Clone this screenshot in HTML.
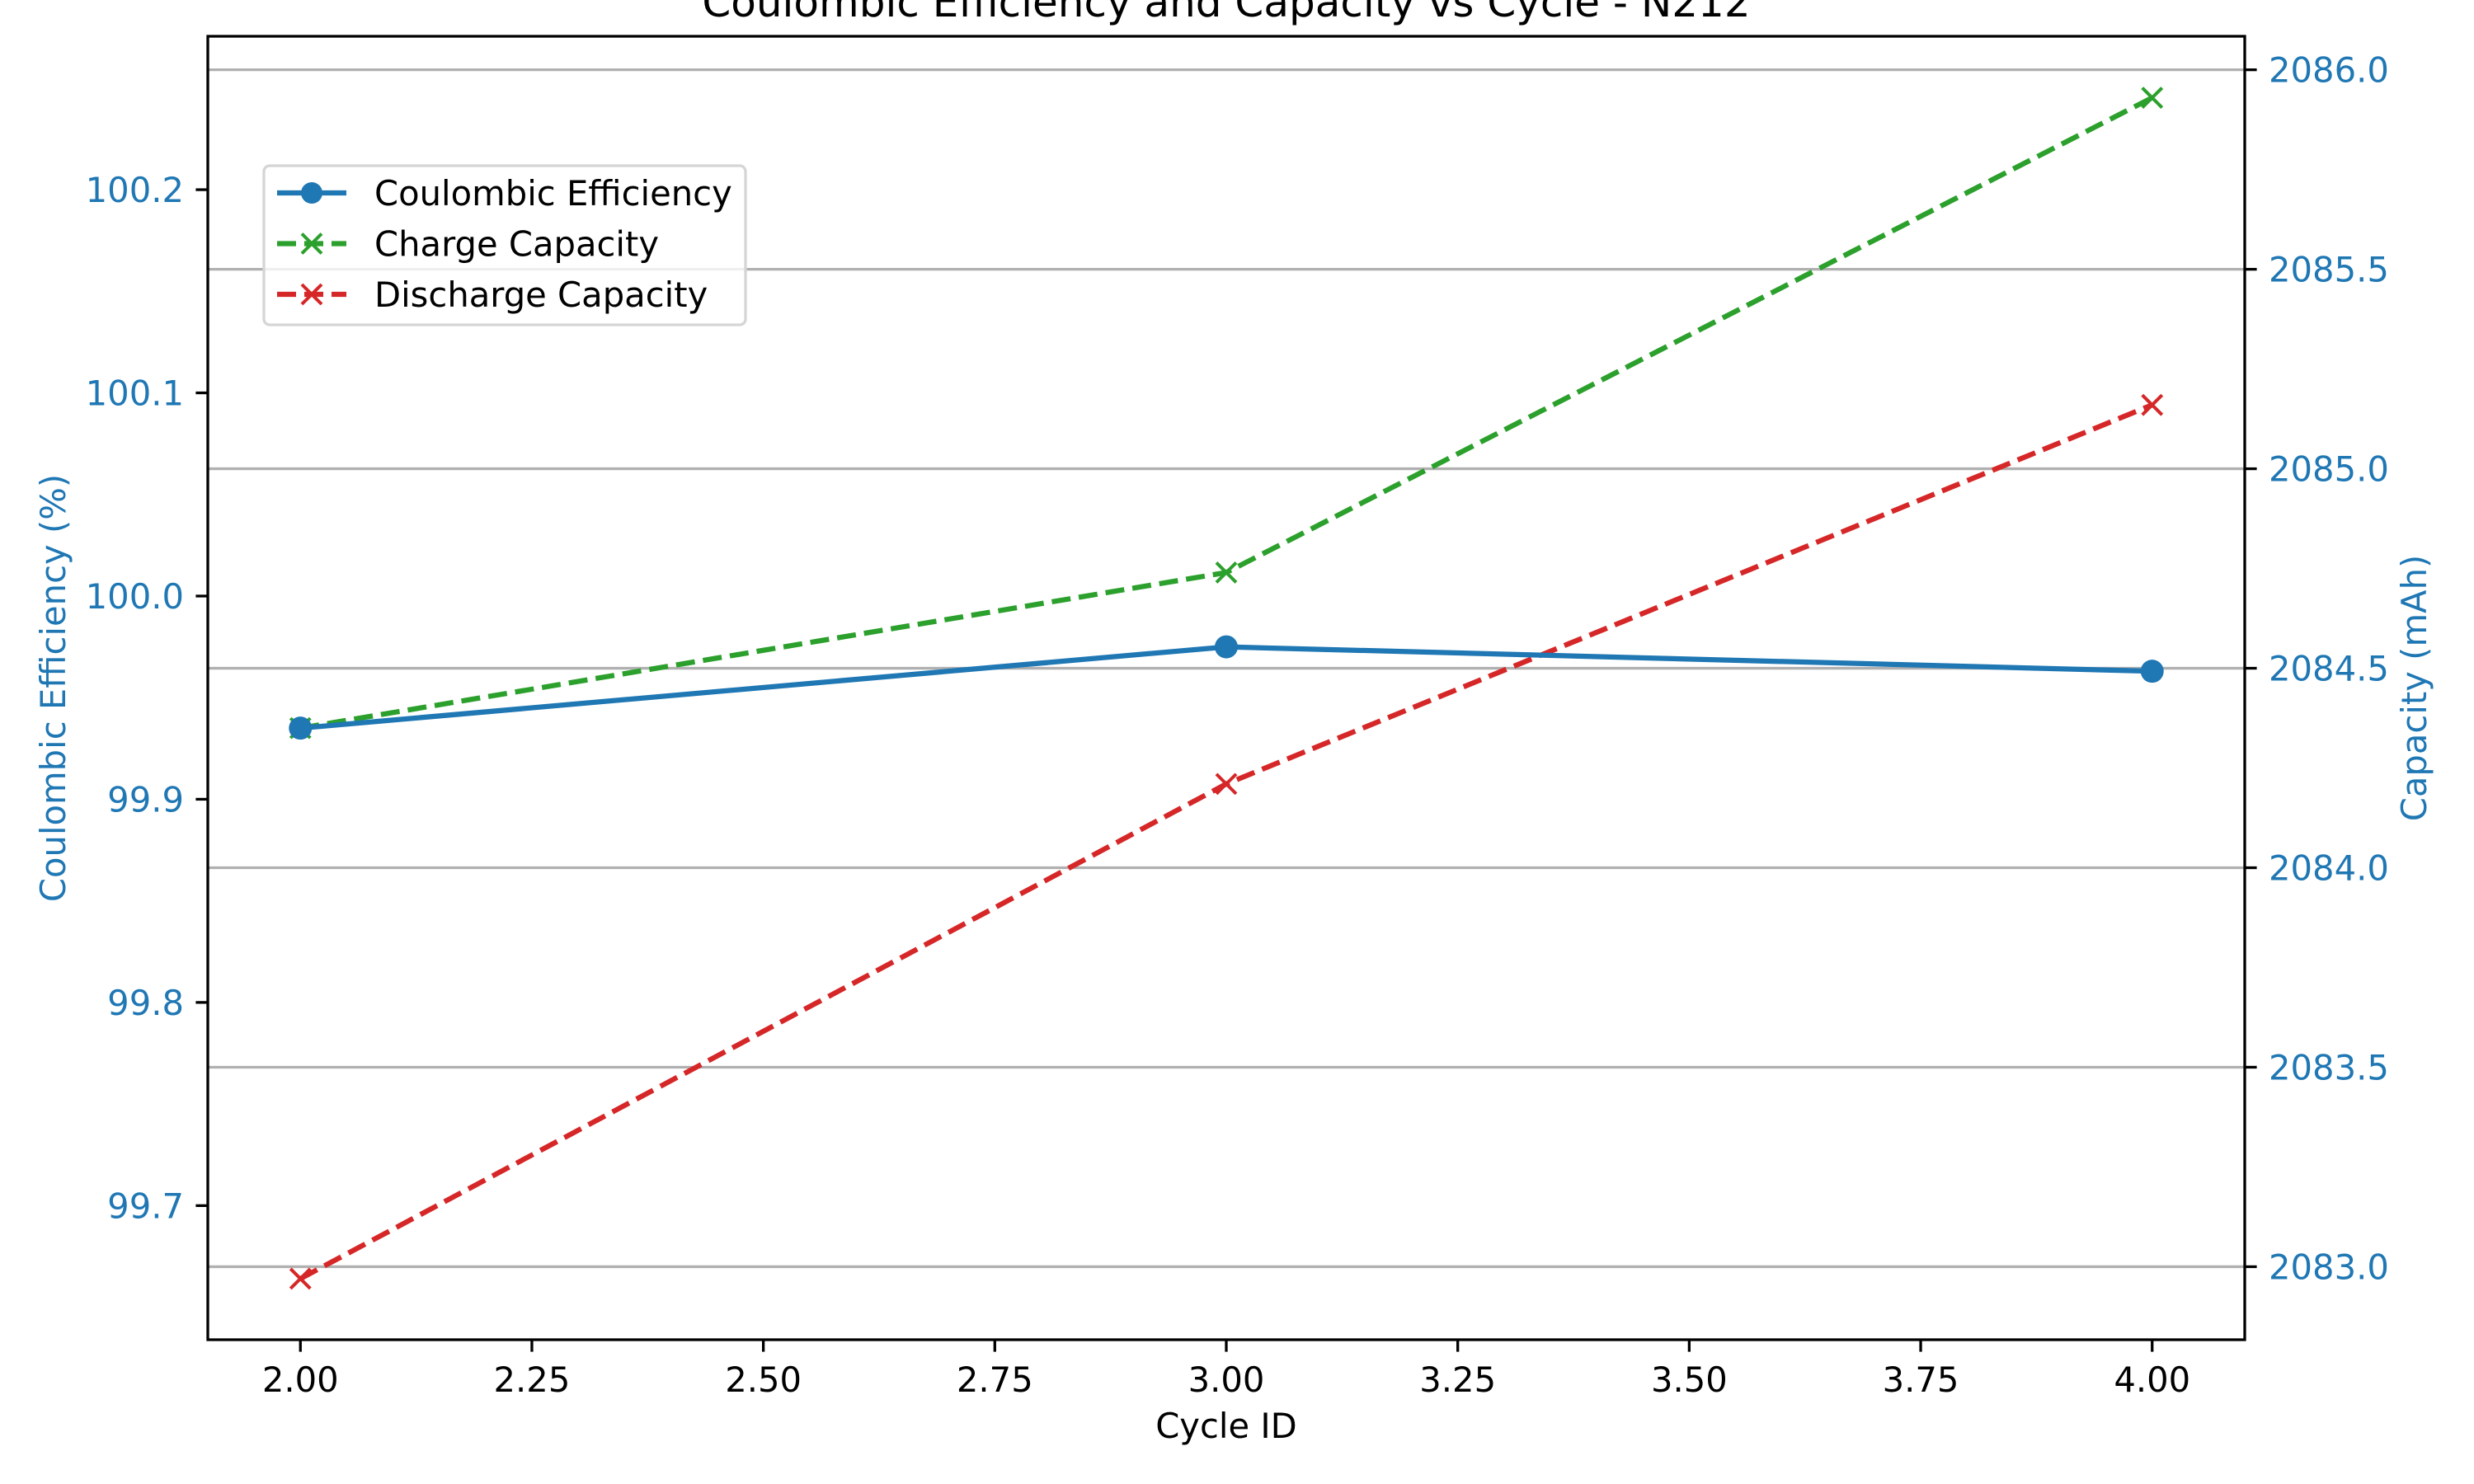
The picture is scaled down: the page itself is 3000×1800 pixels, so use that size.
<!DOCTYPE html>
<html><head><meta charset="utf-8"><style>
html,body{margin:0;padding:0;background:#fff;}
svg{display:block;font-family:"DejaVu Sans","Liberation Sans",sans-serif;}
</style></head><body>
<svg id="chart" width="3000" height="1800" viewBox="0 0 3000 1800" xmlns="http://www.w3.org/2000/svg"></svg>
<script>
const cycles = [2, 3, 4];
const efficiency = [99.935, 99.975, 99.963];
const chargeCap = [2084.35, 2084.74, 2085.93];
const dischargeCap = [2082.97, 2084.21, 2085.16];
const xTicks = [2.0, 2.25, 2.5, 2.75, 3.0, 3.25, 3.5, 3.75, 4.0];
const xTickLabels = ["2.00","2.25","2.50","2.75","3.00","3.25","3.50","3.75","4.00"];
const leftTicks = [99.7, 99.8, 99.9, 100.0, 100.1, 100.2];
const leftTickLabels = ["99.7","99.8","99.9","100.0","100.1","100.2"];
const rightTicks = [2083.0, 2083.5, 2084.0, 2084.5, 2085.0, 2085.5, 2086.0];
const rightTickLabels = ["2083.0","2083.5","2084.0","2084.5","2085.0","2085.5","2086.0"];

const L=252,R=2722,T=44,B=1625;
const X=v=>L+(v-1.9)/(4.1-1.9)*(R-L);
const YL=v=>B-(v-99.634)/(100.2755-99.634)*(B-T);
const YR=v=>B-(v-2082.817)/(2086.084-2082.817)*(B-T);
const svg=document.getElementById('chart');
const NS='http://www.w3.org/2000/svg';
function mk(tag,attrs,parent){const e=document.createElementNS(NS,tag);for(const k in attrs)e.setAttribute(k,attrs[k]);(parent||svg).appendChild(e);return e;}
const blue='#1f77b4',green='#2ca02c',red='#d62728',tc='#1f77b4';

rightTicks.forEach((t,i)=>{
  const g=mk('line',{x1:L,x2:R,y1:YR(t),y2:YR(t),stroke:'#b0b0b0','stroke-width':3.3});
  
  
});

function series(vals,yf,color,dash,marker,name){
  const g=mk('g',{});
  
  
  const pts=cycles.map((c,i)=>X(c)+','+yf(vals[i])).join(' ');
  mk('polyline',{points:pts,fill:'none',stroke:color,'stroke-width':6.25,'stroke-dasharray':dash||'none'},g);
  cycles.forEach((c,i)=>{
    const x=X(c),y=yf(vals[i]);
    let m;
    if(marker==='o'){m=mk('circle',{cx:x,cy:y,r:14,fill:color},g);}
    else{m=mk('path',{d:`M${x-12},${y-12}L${x+12},${y+12}M${x-12},${y+12}L${x+12},${y-12}`,stroke:color,'stroke-width':4,fill:'none'},g);}
    
    
  });
}
series(chargeCap,YR,green,'23,10','x','charge-capacity-series');
series(dischargeCap,YR,red,'23,10','x','discharge-capacity-series');
series(efficiency,YL,blue,null,'o','coulombic-efficiency-series');

const sp=mk('rect',{x:L,y:T,width:R-L,height:B-T,fill:'none',stroke:'#000','stroke-width':3.3});



xTicks.forEach((t,i)=>{
  mk('line',{x1:X(t),x2:X(t),y1:B,y2:B+14.6,stroke:'#000','stroke-width':3.3});
  const tx=mk('text',{x:X(t),y:B+63,'font-size':41.7,'text-anchor':'middle',fill:'#000'});
  tx.textContent=xTickLabels[i];
  
  
});
leftTicks.forEach((t,i)=>{
  mk('line',{x1:L,x2:L-14.6,y1:YL(t),y2:YL(t),stroke:'#000','stroke-width':3.3});
  const tx=mk('text',{x:L-29,y:YL(t)+15,'font-size':41.7,'text-anchor':'end',fill:tc});
  tx.textContent=leftTickLabels[i];
  
  
});
rightTicks.forEach((t,i)=>{
  mk('line',{x1:R,x2:R+14.6,y1:YR(t),y2:YR(t),stroke:'#000','stroke-width':3.3});
  const tx=mk('text',{x:R+29,y:YR(t)+15,'font-size':41.7,'text-anchor':'start',fill:tc});
  tx.textContent=rightTickLabels[i];
  
  
});

let e;
e=mk('text',{x:(L+R)/2,y:20,'font-size':50,'text-anchor':'middle',fill:'#000'});
e.textContent='Coulombic Efficiency and Capacity vs Cycle - N212';


e=mk('text',{x:(L+R)/2,y:1744,'font-size':41.7,'text-anchor':'middle',fill:'#000'});
e.textContent='Cycle ID';


e=mk('text',{x:0,y:0,'font-size':41.7,'text-anchor':'middle',fill:tc,transform:`translate(79,${(T+B)/2}) rotate(-90)`});
e.textContent='Coulombic Efficiency (%)';


e=mk('text',{x:0,y:0,'font-size':41.7,'text-anchor':'middle',fill:tc,transform:`translate(2942,${(T+B)/2}) rotate(-90)`});
e.textContent='Capacity (mAh)';



const lg=mk('g',{});


mk('rect',{x:320,y:201,width:584,height:193,rx:7,fill:'rgba(255,255,255,0.8)',stroke:'#d5d5d5','stroke-width':3.3},lg);
const entries=[['Coulombic Efficiency',blue,'o',null],['Charge Capacity',green,'x','23,10'],['Discharge Capacity',red,'x','23,10']];
entries.forEach((en,i)=>{
  const y=234+i*61.5;
  const eg=mk('g',{},lg);
  
  
  mk('line',{x1:336,x2:420,y1:y,y2:y,stroke:en[1],'stroke-width':6.25,'stroke-dasharray':en[3]||'none'},eg);
  if(en[2]==='o')mk('circle',{cx:378,cy:y,r:13,fill:en[1]},eg);
  else mk('path',{d:`M${366},${y-12}L${390},${y+12}M${366},${y+12}L${390},${y-12}`,stroke:en[1],'stroke-width':4},eg);
  const t=mk('text',{x:454,y:y+15,'font-size':41.7,fill:'#000'},eg);
  t.textContent=en[0];
});
</script>
</body></html>
